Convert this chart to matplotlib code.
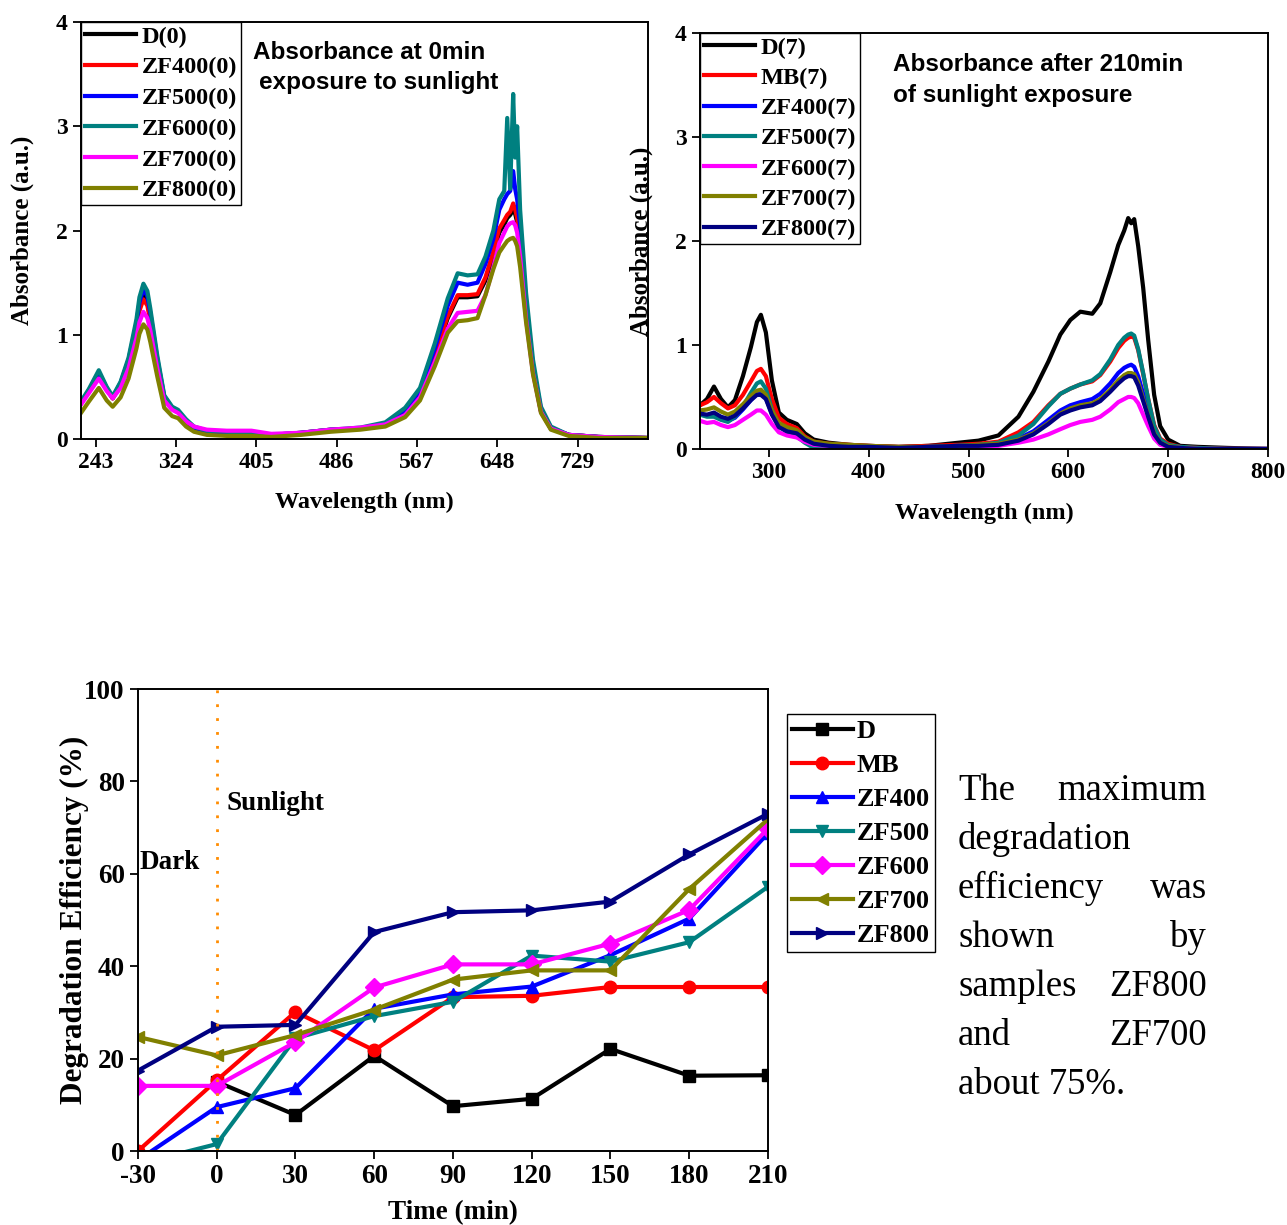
import matplotlib
matplotlib.use("Agg")
import matplotlib.pyplot as plt

plt.rcParams["font.family"] = ["Liberation Serif", "DejaVu Serif"]
plt.rcParams["font.weight"] = "bold"
plt.rcParams["axes.labelweight"] = "bold"
plt.rcParams["axes.unicode_minus"] = False

# ---- spectra at 0 min (top left) ----
wl0 = [228, 236, 246, 254, 260, 268, 276, 284, 287, 291, 295, 298, 305, 312, 320, 326, 334,
       342, 355, 375, 400, 420, 450, 480, 510, 535, 555, 570, 585, 598, 608, 618,
       628, 636, 644, 650, 655, 658, 661, 664, 666, 668, 671, 677, 684, 692, 702,
       720, 750, 800]
d_0 = [0.34, 0.46, 0.62, 0.48, 0.39, 0.52, 0.74, 1.07, 1.26, 1.38, 1.31, 1.15, 0.74, 0.39, 0.29, 0.26, 0.17,
       0.10, 0.06, 0.05, 0.05, 0.03, 0.05, 0.08, 0.10, 0.14, 0.25, 0.42, 0.80, 1.16, 1.36, 1.36,
       1.37, 1.52, 1.76, 1.98, 2.06, 2.12, 2.15, 2.20, 2.16, 2.08, 1.86, 1.20, 0.65, 0.27, 0.10,
       0.04, 0.02, 0.01]
zf400_0 = [0.34, 0.46, 0.62, 0.48, 0.39, 0.52, 0.73, 1.05, 1.23, 1.34, 1.28, 1.13, 0.73, 0.39, 0.29, 0.26, 0.17,
           0.10, 0.07, 0.06, 0.05, 0.04, 0.06, 0.09, 0.10, 0.14, 0.26, 0.43, 0.81, 1.18, 1.38, 1.38,
           1.39, 1.55, 1.80, 2.02, 2.10, 2.15, 2.18, 2.26, 2.20, 2.12, 1.90, 1.22, 0.66, 0.27, 0.10,
           0.04, 0.02, 0.01]
zf500_0 = [0.35, 0.47, 0.64, 0.49, 0.40, 0.54, 0.76, 1.11, 1.31, 1.44, 1.37, 1.21, 0.77, 0.41, 0.30, 0.27, 0.18,
           0.11, 0.07, 0.06, 0.05, 0.04, 0.06, 0.09, 0.10, 0.15, 0.28, 0.46, 0.87, 1.28, 1.50, 1.48,
           1.50, 1.68, 1.92, 2.20, 2.30, 2.35, 2.38, 2.57, 2.40, 2.30, 2.05, 1.30, 0.70, 0.29, 0.11,
           0.04, 0.02, 0.01]
zf600_0 = [0.36, 0.48, 0.66, 0.50, 0.41, 0.55, 0.78, 1.15, 1.36, 1.49, 1.42, 1.25, 0.80, 0.42, 0.31, 0.28, 0.19,
           0.12, 0.08, 0.07, 0.06, 0.04, 0.06, 0.09, 0.11, 0.16, 0.30, 0.49, 0.92, 1.35, 1.59, 1.57,
           1.58, 1.75, 2.00, 2.30, 2.38, 3.08, 2.40, 3.31, 2.70, 3.00, 2.20, 1.40, 0.76, 0.31, 0.12,
           0.04, 0.02, 0.01]
zf700_0 = [0.33, 0.44, 0.58, 0.46, 0.39, 0.49, 0.68, 0.97, 1.12, 1.22, 1.16, 1.04, 0.68, 0.37, 0.28, 0.25, 0.17,
           0.12, 0.09, 0.08, 0.08, 0.05, 0.06, 0.09, 0.11, 0.14, 0.23, 0.40, 0.74, 1.06, 1.21, 1.22,
           1.23, 1.38, 1.65, 1.88, 1.98, 2.04, 2.07, 2.08, 2.05, 1.98, 1.75, 1.15, 0.63, 0.26, 0.10,
           0.04, 0.02, 0.01]
zf800_0 = [0.25, 0.36, 0.49, 0.37, 0.31, 0.40, 0.58, 0.87, 1.01, 1.10, 1.05, 0.93, 0.60, 0.30, 0.22, 0.20, 0.12,
           0.07, 0.04, 0.03, 0.03, 0.02, 0.04, 0.07, 0.09, 0.12, 0.21, 0.37, 0.70, 1.02, 1.13, 1.14,
           1.16, 1.38, 1.63, 1.79, 1.86, 1.90, 1.92, 1.93, 1.90, 1.85, 1.65, 1.12, 0.62, 0.25, 0.09,
           0.03, 0.01, 0.01]

# ---- spectra after 210 min (top right) ----
wl7 = [231, 238, 245, 252, 259, 266, 274, 282, 288, 292, 297, 303, 310, 318, 328,
       336, 345, 360, 380, 400, 430, 460, 490, 510, 530, 550, 565, 580, 592, 602,
       612, 624, 632, 642, 650, 656, 660, 663, 666, 670, 675, 680, 686, 692, 700,
       712, 730, 760, 800]
d_7 = [0.42, 0.48, 0.60, 0.48, 0.40, 0.47, 0.70, 0.98, 1.22, 1.29, 1.12, 0.66, 0.35, 0.28, 0.24,
       0.15, 0.09, 0.06, 0.04, 0.03, 0.02, 0.03, 0.06, 0.08, 0.13, 0.31, 0.55, 0.84, 1.10, 1.24,
       1.32, 1.30, 1.40, 1.70, 1.96, 2.10, 2.22, 2.17, 2.21, 1.95, 1.55, 1.05, 0.52, 0.22, 0.09,
       0.03, 0.02, 0.01, 0.00]
mb_7 = [0.42, 0.45, 0.50, 0.44, 0.39, 0.42, 0.52, 0.65, 0.75, 0.77, 0.70, 0.48, 0.30, 0.24, 0.20,
        0.12, 0.07, 0.05, 0.04, 0.03, 0.02, 0.03, 0.04, 0.05, 0.07, 0.16, 0.26, 0.42, 0.53, 0.58,
        0.62, 0.65, 0.71, 0.84, 0.97, 1.04, 1.07, 1.08, 1.07, 0.95, 0.72, 0.48, 0.23, 0.10, 0.05,
        0.02, 0.01, 0.00, 0.00]
zf400_7 = [0.33, 0.32, 0.34, 0.30, 0.27, 0.30, 0.38, 0.47, 0.53, 0.54, 0.49, 0.34, 0.22, 0.17, 0.14,
           0.08, 0.05, 0.03, 0.02, 0.02, 0.01, 0.02, 0.03, 0.03, 0.05, 0.10, 0.17, 0.28, 0.37, 0.42,
           0.45, 0.48, 0.53, 0.63, 0.73, 0.78, 0.80, 0.81, 0.79, 0.70, 0.53, 0.35, 0.16, 0.07, 0.03,
           0.01, 0.00, 0.00, 0.00]
zf500_7 = [0.33, 0.31, 0.31, 0.28, 0.26, 0.31, 0.41, 0.54, 0.63, 0.65, 0.58, 0.38, 0.23, 0.17, 0.12,
           0.06, 0.01, 0.00, 0.00, 0.00, 0.01, 0.02, 0.03, 0.04, 0.06, 0.13, 0.24, 0.41, 0.53, 0.58,
           0.62, 0.66, 0.72, 0.86, 1.00, 1.07, 1.10, 1.11, 1.09, 0.96, 0.73, 0.48, 0.22, 0.09, 0.04,
           0.02, 0.01, 0.00, 0.00]
zf600_7 = [0.27, 0.25, 0.26, 0.23, 0.21, 0.23, 0.28, 0.33, 0.37, 0.37, 0.33, 0.24, 0.16, 0.13, 0.11,
           0.07, 0.04, 0.03, 0.02, 0.02, 0.01, 0.01, 0.02, 0.02, 0.03, 0.06, 0.09, 0.14, 0.19, 0.23,
           0.26, 0.28, 0.31, 0.38, 0.45, 0.48, 0.50, 0.50, 0.49, 0.44, 0.33, 0.22, 0.10, 0.04, 0.02,
           0.01, 0.00, 0.00, 0.00]
zf700_7 = [0.37, 0.38, 0.40, 0.36, 0.33, 0.36, 0.43, 0.51, 0.56, 0.57, 0.52, 0.37, 0.25, 0.21, 0.18,
           0.11, 0.07, 0.05, 0.04, 0.03, 0.02, 0.02, 0.03, 0.04, 0.05, 0.09, 0.15, 0.25, 0.34, 0.39,
           0.42, 0.44, 0.48, 0.57, 0.66, 0.71, 0.73, 0.73, 0.72, 0.64, 0.48, 0.32, 0.15, 0.06, 0.03,
           0.01, 0.00, 0.00, 0.00]
zf800_7 = [0.34, 0.33, 0.35, 0.31, 0.29, 0.32, 0.39, 0.47, 0.52, 0.52, 0.48, 0.33, 0.21, 0.17, 0.15,
           0.09, 0.05, 0.03, 0.02, 0.02, 0.01, 0.02, 0.03, 0.03, 0.04, 0.08, 0.14, 0.24, 0.33, 0.37,
           0.40, 0.42, 0.46, 0.55, 0.63, 0.68, 0.70, 0.70, 0.69, 0.61, 0.46, 0.31, 0.14, 0.06, 0.02,
           0.01, 0.00, 0.00, 0.00]

# ---- degradation efficiency (bottom) ----
time = [-30, 0, 30, 60, 90, 120, 150, 180, 210]
eff_d = [None, 15.0, 7.8, 20.6, 9.7, 11.3, 22.1, 16.3, 16.4]
eff_mb = [0.0, 15.3, 30.1, 21.8, 33.3, 33.6, 35.5, 35.5, 35.5]
eff_zf400 = [-2.0, 9.5, 13.6, 30.8, 33.9, 35.6, 42.4, 50.3, 68.8]
eff_zf500 = [-2.8, 1.5, 24.4, 29.2, 32.3, 42.3, 41.0, 45.2, 57.2]
eff_zf600 = [14.1, 14.1, 23.6, 35.4, 40.4, 40.4, 44.9, 52.2, 69.8]
eff_zf700 = [24.7, 20.7, 25.1, 30.6, 37.1, 39.1, 39.1, 56.7, 71.8]
eff_zf800 = [17.4, 26.9, 27.3, 47.4, 51.7, 52.1, 54.0, 64.2, 73.0]

fig = plt.figure(figsize=(12.87, 12.25), dpi=100)


def style_axes(ax, tick_size):
    for s in ax.spines.values():
        s.set_linewidth(1.4)
    ax.tick_params(direction="out", length=6, width=1.3, labelsize=tick_size,
                   top=False, right=False)
    for lab in ax.get_xticklabels() + ax.get_yticklabels():
        lab.set_fontweight("bold")


# top left
ax1 = fig.add_axes([0.0629, 0.6416, 0.4406, 0.3404])
spec0 = [("D(0)", d_0, "black"), ("ZF400(0)", zf400_0, "#ff0000"),
         ("ZF500(0)", zf500_0, "#0000ff"), ("ZF600(0)", zf600_0, "#008080"),
         ("ZF700(0)", zf700_0, "#ff00ff"), ("ZF800(0)", zf800_0, "#808000")]
for name, vals, col in spec0:
    ax1.plot(wl0, vals, color=col, lw=3, label=name)
ax1.set_xlim(228, 800)
ax1.set_ylim(0, 4)
ax1.set_xticks([243, 324, 405, 486, 567, 648, 729])
ax1.set_yticks([0, 1, 2, 3, 4])
style_axes(ax1, 17)
ax1.set_xlabel("Wavelength (nm)", fontsize=17.5)
ax1.set_ylabel("Absorbance (a.u.)", fontsize=18)
ax1.xaxis.set_label_coords(0.5, -0.127)
ax1.yaxis.set_label_coords(-0.083, 0.5)
ax1.legend(loc="upper left", bbox_to_anchor=(0, 1), borderaxespad=0,
           frameon=True, fancybox=False, edgecolor="black", framealpha=1,
           handlelength=2.1, handletextpad=0.25, labelspacing=0.36, borderpad=0.15,
           prop={"weight": "bold", "size": 17.5})
ax1.text(0.303, 0.928, "Absorbance at 0min", transform=ax1.transAxes,
         fontsize=17.5, fontweight="bold", family="Liberation Sans", va="center")
ax1.text(0.314, 0.854, "exposure to sunlight", transform=ax1.transAxes,
         fontsize=17.5, fontweight="bold", family="Liberation Sans", va="center")

# top right
ax2 = fig.add_axes([0.5439, 0.6335, 0.4413, 0.3396])
spec7 = [("D(7)", d_7, "black"), ("MB(7)", mb_7, "#ff0000"),
         ("ZF400(7)", zf400_7, "#0000ff"), ("ZF500(7)", zf500_7, "#008080"),
         ("ZF600(7)", zf600_7, "#ff00ff"), ("ZF700(7)", zf700_7, "#808000"),
         ("ZF800(7)", zf800_7, "#000080")]
for name, vals, col in spec7:
    ax2.plot(wl7, vals, color=col, lw=3, label=name)
ax2.set_xlim(231, 800)
ax2.set_ylim(0, 4)
ax2.set_xticks([300, 400, 500, 600, 700, 800])
ax2.set_yticks([0, 1, 2, 3, 4])
style_axes(ax2, 17)
ax2.set_xlabel("Wavelength (nm)", fontsize=17.5)
ax2.set_ylabel("Absorbance (a.u.)", fontsize=18)
ax2.xaxis.set_label_coords(0.5, -0.130)
ax2.yaxis.set_label_coords(-0.083, 0.5)
ax2.legend(loc="upper left", bbox_to_anchor=(0, 1), borderaxespad=0,
           frameon=True, fancybox=False, edgecolor="black", framealpha=1,
           handlelength=2.1, handletextpad=0.25, labelspacing=0.34, borderpad=0.15,
           prop={"weight": "bold", "size": 17.5})
ax2.text(0.340, 0.923, "Absorbance after 210min", transform=ax2.transAxes,
         fontsize=17.5, fontweight="bold", family="Liberation Sans", va="center")
ax2.text(0.340, 0.849, "of sunlight exposure", transform=ax2.transAxes,
         fontsize=17.5, fontweight="bold", family="Liberation Sans", va="center")

# bottom
ax3 = fig.add_axes([0.1072, 0.0604, 0.4895, 0.3771])
series = [("D", eff_d, "black", "s"), ("MB", eff_mb, "#ff0000", "o"),
          ("ZF400", eff_zf400, "#0000ff", "^"), ("ZF500", eff_zf500, "#008080", "v"),
          ("ZF600", eff_zf600, "#ff00ff", "D"), ("ZF700", eff_zf700, "#808000", "<"),
          ("ZF800", eff_zf800, "#000080", ">")]
for name, vals, col, mk in series:
    xs = [t for t, v in zip(time, vals) if v is not None]
    ys = [v for v in vals if v is not None]
    ax3.plot(xs, ys, color=col, lw=3, marker=mk, markersize=9, label=name)
ax3.axvline(0, color="#ff8c00", ls=(0, (1, 4)), lw=2)
ax3.set_xlim(-30, 210)
ax3.set_ylim(0, 100)
ax3.set_xticks(time)
ax3.set_yticks([0, 20, 40, 60, 80, 100])
style_axes(ax3, 19.5)
ax3.set_xlabel("Time (min)", fontsize=19.5)
ax3.set_ylabel("Degradation Efficiency (%)", fontsize=22.5)
ax3.xaxis.set_label_coords(0.5, -0.106)
ax3.yaxis.set_label_coords(-0.078, 0.5)
ax3.text(-29.5, 62.5, "Dark", fontsize=19.5, fontweight="bold", va="center")
ax3.text(3.8, 75.3, "Sunlight", fontsize=19.5, fontweight="bold", va="center")
ax3.legend(loc="upper left", bbox_to_anchor=(1.03, 0.946), borderaxespad=0,
           frameon=True, fancybox=False, edgecolor="black", framealpha=1,
           handlelength=2.3, handletextpad=0.15, labelspacing=0.4, borderpad=0.2,
           prop={"weight": "bold", "size": 19})

# justified paragraph on the right
para = [("The", "maximum"), ("degradation", ""), ("efficiency", "was"), ("shown", "by"),
        ("samples", "ZF800"), ("and", "ZF700"), ("about 75%.", "")]
base_y = [800, 849, 898, 947, 996, 1045, 1094]
for (left, right), yb in zip(para, base_y):
    fy = 1 - yb / 1225
    fig.text(958 / 1287, fy, left, fontsize=26.5, fontweight="normal", va="baseline", ha="left")
    if right:
        fig.text(1207 / 1287, fy, right, fontsize=26.5, fontweight="normal", va="baseline", ha="right")

fig.savefig("out.png", dpi=100)
